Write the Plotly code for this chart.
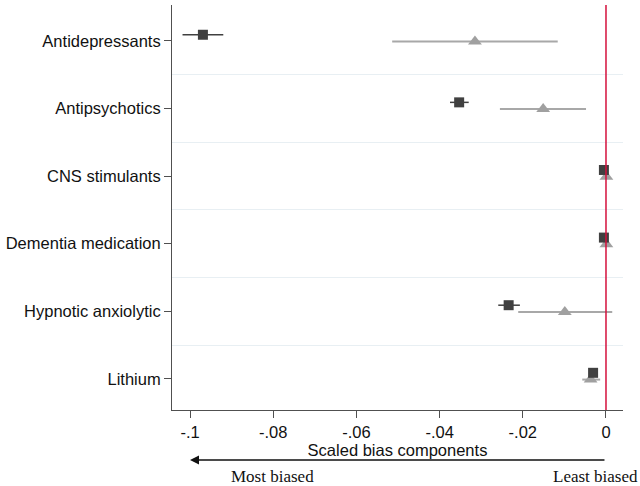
import plotly.graph_objects as go

categories = ["Antidepressants", "Antipsychotics", "CNS stimulants",
              "Dementia medication", "Hypnotic anxiolytic", "Lithium"]

# series 1: dark squares
sq_est = [-0.0969, -0.0353, -0.0005, -0.0005, -0.0234, -0.0031]
sq_lo = [-0.1018, -0.0375, -0.0007, -0.0007, -0.0259, -0.0036]
sq_hi = [-0.0920, -0.0330, -0.0003, -0.0003, -0.0207, -0.0026]

# series 2: grey triangles
tr_est = [-0.0315, -0.0151, 0.0001, 0.0001, -0.0099, -0.0037]
tr_lo = [-0.0514, -0.0255, -0.0001, -0.0001, -0.0211, -0.0057]
tr_hi = [-0.0116, -0.0048, 0.0003, 0.0003, 0.0015, -0.0014]

xticks = [-0.1, -0.08, -0.06, -0.04, -0.02, 0]
xticklabels = ["-.1", "-.08", "-.06", "-.04", "-.02", "0"]

pos = list(range(len(categories)))
sq_y = [p - 0.09 for p in pos]
tr_y = [p + 0.01 for p in pos]

fig = go.Figure()

fig.add_trace(go.Scatter(
    x=tr_est, y=tr_y, mode="markers",
    marker=dict(symbol="triangle-up", size=12, color="#a0a0a0"),
    error_x=dict(type="data", symmetric=False,
                 array=[h - e for h, e in zip(tr_hi, tr_est)],
                 arrayminus=[e - l for e, l in zip(tr_est, tr_lo)],
                 color="#a8a8a8", thickness=2, width=0),
    showlegend=False))

fig.add_trace(go.Scatter(
    x=sq_est, y=sq_y, mode="markers",
    marker=dict(symbol="square", size=10, color="#404040"),
    error_x=dict(type="data", symmetric=False,
                 array=[h - e for h, e in zip(sq_hi, sq_est)],
                 arrayminus=[e - l for e, l in zip(sq_est, sq_lo)],
                 color="#404040", thickness=1.5, width=0),
    showlegend=False))

fig.add_vline(x=0, line=dict(color="#d4103c", width=1.5))

fig.update_layout(
    width=640, height=486,
    margin=dict(l=172, r=17, t=5, b=76),
    plot_bgcolor="white", paper_bgcolor="white",
    font=dict(family="Liberation Sans, Arial", size=16.5, color="#111111"),
    xaxis=dict(range=[-0.10433, 0.00409], tickvals=xticks, ticktext=xticklabels,
               showgrid=False, zeroline=False, showline=True, linecolor="#505050",
               linewidth=1, ticks="outside", ticklen=7, tickcolor="#505050",
               tickfont=dict(size=16.5),
               title=dict(text="Scaled bias components", font=dict(size=16.5), standoff=1)),
    yaxis=dict(range=[5.46, -0.53], tickvals=pos, ticktext=categories,
               showgrid=False, zeroline=False, showline=True, linecolor="#505050",
               linewidth=1, ticks="outside", ticklen=7, tickcolor="#505050",
               tickfont=dict(size=16.5),
               minor=dict(tickvals=[0.5, 1.5, 2.5, 3.5, 4.5], showgrid=True,
                          gridcolor="#e8eff3", gridwidth=1, ticks="")),
)

fig.add_annotation(x=-0.1, y=-0.1235, xref="x", yref="paper",
                   ax=0, ay=0, axref="x", ayref="pixel",
                   showarrow=True, arrowhead=2, arrowsize=1.2, arrowwidth=1.5,
                   arrowcolor="#111111", text="")
fig.add_annotation(x=-0.0906, y=-0.165, xref="x", yref="paper", xanchor="left",
                   yanchor="middle", showarrow=False, text="Most biased",
                   font=dict(family="Liberation Serif, Times New Roman", size=17, color="#111111"))
fig.add_annotation(x=1.037, y=-0.165, xref="paper", yref="paper", xanchor="right",
                   yanchor="middle", showarrow=False, text="Least biased",
                   font=dict(family="Liberation Serif, Times New Roman", size=17, color="#111111"))

fig.write_html("out.html", config={"displayModeBar": False},
               post_script="document.body.style.margin='0px';")
